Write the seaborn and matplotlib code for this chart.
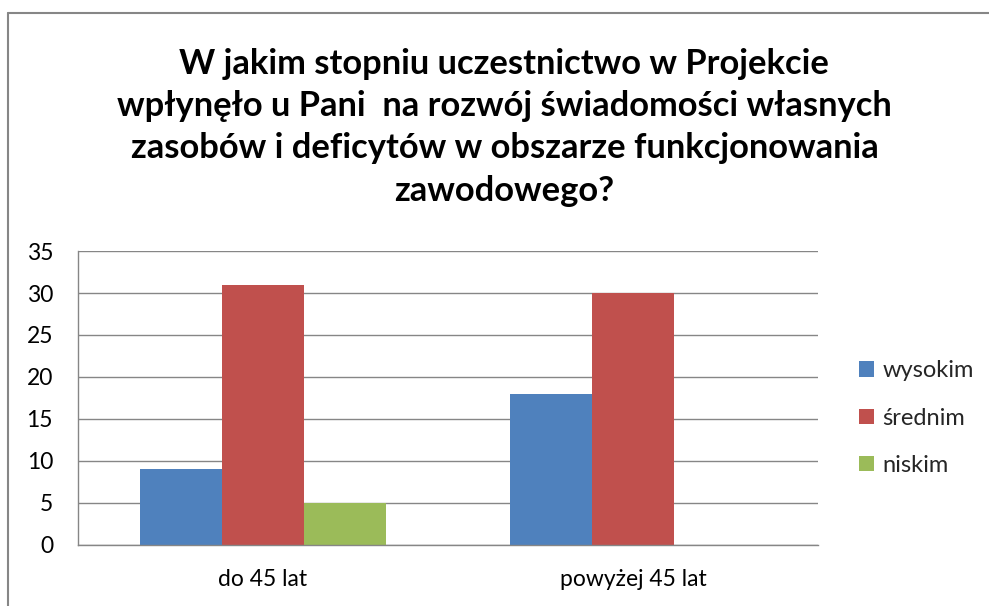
import matplotlib
matplotlib.use("Agg")
import matplotlib.pyplot as plt
import seaborn as sns
import pandas as pd
from matplotlib.lines import Line2D
from matplotlib.patches import Patch

categories = ["do 45 lat", "powyżej 45 lat"]
series = ["wysokim", "średnim", "niskim"]
wysokim = [9, 18]
srednim = [31, 30]
niskim = [5, 0]
colors = ["#4F81BD", "#C0504D", "#9BBB59"]
title = ("W jakim stopniu uczestnictwo w Projekcie\n"
         "wpłynęło u Pani  na rozwój świadomości własnych\n"
         "zasobów i deficytów w obszarze funkcjonowania\n"
         "zawodowego?")

rows = []
for s, vals in zip(series, [wysokim, srednim, niskim]):
    for c, v in zip(categories, vals):
        rows.append({"kategoria": c, "seria": s, "wartosc": v})
df = pd.DataFrame(rows)

sns.set_theme(style="white")
plt.rcParams["font.family"] = ["Lato", "DejaVu Sans"]

fig = plt.figure(figsize=(9.89, 6.06), dpi=100)
ax = fig.add_axes([0.0789, 0.1007, 0.827 - 0.0789, 0.5858 - 0.1007])

sns.barplot(data=df, x="kategoria", y="wartosc", hue="seria", order=categories,
            hue_order=series, palette=colors, width=0.665, saturation=1,
            ax=ax, legend=False, linewidth=0)

ax.set_ylim(0, 35)
ax.set_yticks(range(0, 36, 5))
ax.set_xlim(-0.5, 1.5)
ax.yaxis.grid(True, color="#868686", linewidth=1)
ax.set_axisbelow(True)
ax.set_xlabel("")
ax.set_ylabel("")
for side in ["top", "right"]:
    ax.spines[side].set_visible(False)
for side in ["left", "bottom"]:
    ax.spines[side].set_color("#868686")
    ax.spines[side].set_linewidth(1)
ax.tick_params(axis="y", length=0, pad=18, labelsize=16.5, labelcolor="#000000")
ax.tick_params(axis="x", length=0, pad=17, labelsize=16.5, labelcolor="#000000")

handles = [Patch(facecolor=c, edgecolor="none") for c in colors]
fig.legend(handles, series, loc="center left", bbox_to_anchor=(0.8686, 0.31),
           frameon=False, fontsize=17, handlelength=0.64, handleheight=0.64,
           handletextpad=0.34, labelspacing=1.11, borderaxespad=0, borderpad=0)

fig.text(0.51, 0.79, title, ha="center", va="center", fontsize=24.8,
         fontweight="bold", linespacing=1.40, color="#000000")

# outer chart border (top and left edges visible)
fig.add_artist(Line2D([0.0081, 1.0], [0.9785, 0.9785], transform=fig.transFigure,
                      color="#868686", linewidth=1.5))
fig.add_artist(Line2D([0.0081, 0.0081], [0.0, 0.9785], transform=fig.transFigure,
                      color="#868686", linewidth=1.5))

fig.savefig("out.png", dpi=100)
